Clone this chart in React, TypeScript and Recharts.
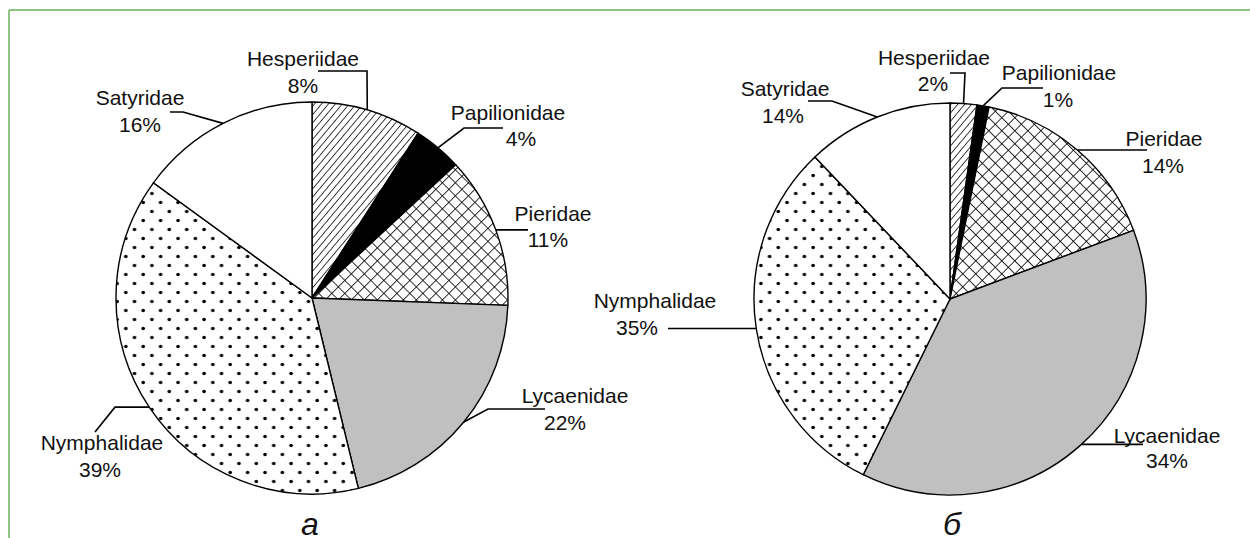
import React from "react";
import { PieChart, Pie, Cell } from "recharts";

const FAMILIES = ["Hesperiidae", "Papilionidae", "Pieridae", "Lycaenidae", "Nymphalidae", "Satyridae"];
// slice sizes as drawn (share of the circle)
const SHARES_A = [9.1, 4.0, 12.5, 20.6, 38.8, 15.0];
const SHARES_B = [2.2, 1.0, 16.1, 38.0, 30.6, 12.1];
// percentages printed on the labels
const PCT_A = [8, 4, 11, 22, 39, 16];
const PCT_B = [2, 1, 14, 34, 35, 14];
const PANELS = ["а", "б"];

const FILLS = ["url(#hatch)", "#000000", "url(#cross)", "#c0c0c0", "url(#dots)", "#ffffff"];
const FONT = "'Liberation Sans', Arial, sans-serif";
const W = 1250;
const H = 538;
const R = 196;
const CENTER_A = { x: 312, y: 298 };
const CENTER_B = { x: 950, y: 299 };
const RAD = Math.PI / 180;

type Leader = { pts: [number, number | null][]; name: [number, number]; pct: [number, number] };

// leader elbows and text spots, relative to the pie centre
const LEADERS_A: Leader[] = [
  { pts: [[55, -227], [6, -227]], name: [-9, -240], pct: [-9, -213] },
  { pts: [[152, -170], [191, -170]], name: [196, -186], pct: [209, -160] },
  { pts: [[216, null]], name: [241, -85], pct: [236, -59] },
  { pts: [[176, 111], [233, 111]], name: [263, 97], pct: [253, 124] },
  { pts: [[-197, null], [-217, 134]], name: [-210, 144], pct: [-212, 171] },
  { pts: [[-129, -186], [-142, -186]], name: [-172, -201], pct: [-172, -174] },
];

const LEADERS_B: Leader[] = [
  { pts: [[15, -226], [0, -226]], name: [-16, -242], pct: [-17, -216] },
  { pts: [[52, -211], [93, -211]], name: [109, -227], pct: [108, -200] },
  { pts: [[197, null]], name: [214, -161], pct: [213, -134] },
  { pts: [[193, null]], name: [217, 136], pct: [217, 161] },
  { pts: [[-282, null]], name: [-295, 1], pct: [-313, 28] },
  { pts: [[-118, -198], [-142, -198]], name: [-165, -211], pct: [-167, -184] },
];

function makeLabel(layout: Leader[], pcts: number[]) {
  // eslint-disable-next-line @typescript-eslint/no-explicit-any
  return (props: any) => {
    const cx = props.cx as number;
    const cy = props.cy as number;
    const mid = props.midAngle as number;
    const r = props.outerRadius as number;
    const i = props.index as number;
    const L = layout[i];
    const ax = cx + r * Math.cos(-mid * RAD);
    const ay = cy + r * Math.sin(-mid * RAD);
    const pts: number[][] = [[ax, ay]];
    let py = ay;
    for (const [dx, dy] of L.pts) {
      const y = dy == null ? py : cy + dy;
      pts.push([cx + dx, y]);
      py = y;
    }
    return (
      <g>
        <polyline
          points={pts.map((p) => p.join(",")).join(" ")}
          fill="none"
          stroke="#000"
          strokeWidth={1.6}
        />
        <text x={cx + L.name[0]} y={cy + L.name[1] + 7.5} textAnchor="middle" fontSize={21} fontFamily={FONT} fill="#111">
          {FAMILIES[i]}
        </text>
        <text x={cx + L.pct[0]} y={cy + L.pct[1] + 7.5} textAnchor="middle" fontSize={21} fontFamily={FONT} fill="#111">
          {pcts[i]}%
        </text>
      </g>
    );
  };
}

const dataA = FAMILIES.map((name, i) => ({ name, value: SHARES_A[i] }));
const dataB = FAMILIES.map((name, i) => ({ name, value: SHARES_B[i] }));

export default function App() {
  return (
    <div style={{ position: "absolute", left: 0, top: 0, width: W, height: H, overflow: "hidden", background: "#fff" }}>
      <PieChart width={W} height={H} margin={{ top: 0, right: 0, bottom: 0, left: 0 }}>
        <defs>
          <pattern id="hatch" width={5.3} height={5.3} patternUnits="userSpaceOnUse" patternTransform="rotate(40)">
            <rect width={5.3} height={5.3} fill="#fff" />
            <line x1={0} y1={0} x2={0} y2={5.3} stroke="#000" strokeWidth={1.5} />
          </pattern>
          <pattern id="cross" width={9.2} height={9.2} patternUnits="userSpaceOnUse" patternTransform="rotate(45)">
            <rect width={9.2} height={9.2} fill="#fff" />
            <line x1={0} y1={0} x2={0} y2={9.2} stroke="#000" strokeWidth={1.6} />
            <line x1={0} y1={0} x2={9.2} y2={0} stroke="#000" strokeWidth={1.6} />
          </pattern>
          <pattern id="dots" width={17.4} height={18} patternUnits="userSpaceOnUse">
            <rect width={17.4} height={18} fill="#fff" />
            <circle cx={4} cy={4.5} r={1.8} fill="#000" />
            <circle cx={12.7} cy={13.5} r={1.8} fill="#000" />
          </pattern>
        </defs>
        <Pie
          data={dataA}
          dataKey="value"
          nameKey="name"
          cx={CENTER_A.x}
          cy={CENTER_A.y}
          outerRadius={R}
          startAngle={90}
          endAngle={-270}
          stroke="#000"
          strokeWidth={1.4}
          labelLine={false}
          label={makeLabel(LEADERS_A, PCT_A)}
          isAnimationActive={false}
        >
          {dataA.map((d, i) => (
            <Cell key={d.name} fill={FILLS[i]} />
          ))}
        </Pie>
        <Pie
          data={dataB}
          dataKey="value"
          nameKey="name"
          cx={CENTER_B.x}
          cy={CENTER_B.y}
          outerRadius={R}
          startAngle={90}
          endAngle={-270}
          stroke="#000"
          strokeWidth={1.4}
          labelLine={false}
          label={makeLabel(LEADERS_B, PCT_B)}
          isAnimationActive={false}
        >
          {dataB.map((d, i) => (
            <Cell key={d.name} fill={FILLS[i]} />
          ))}
        </Pie>
      </PieChart>
      <svg width={W} height={H} style={{ position: "absolute", left: 0, top: 0, pointerEvents: "none" }}>
        <line x1={9} y1={10} x2={W} y2={10} stroke="#6cb25c" strokeWidth={1.5} />
        <line x1={9} y1={10} x2={9} y2={H} stroke="#6cb25c" strokeWidth={1.5} />
        <text x={310} y={535} textAnchor="middle" fontSize={32} fontStyle="italic" fontFamily={FONT} fill="#111">
          {PANELS[0]}
        </text>
        <text x={952} y={535} textAnchor="middle" fontSize={32} fontStyle="italic" fontFamily={FONT} fill="#111">
          {PANELS[1]}
        </text>
      </svg>
    </div>
  );
}
